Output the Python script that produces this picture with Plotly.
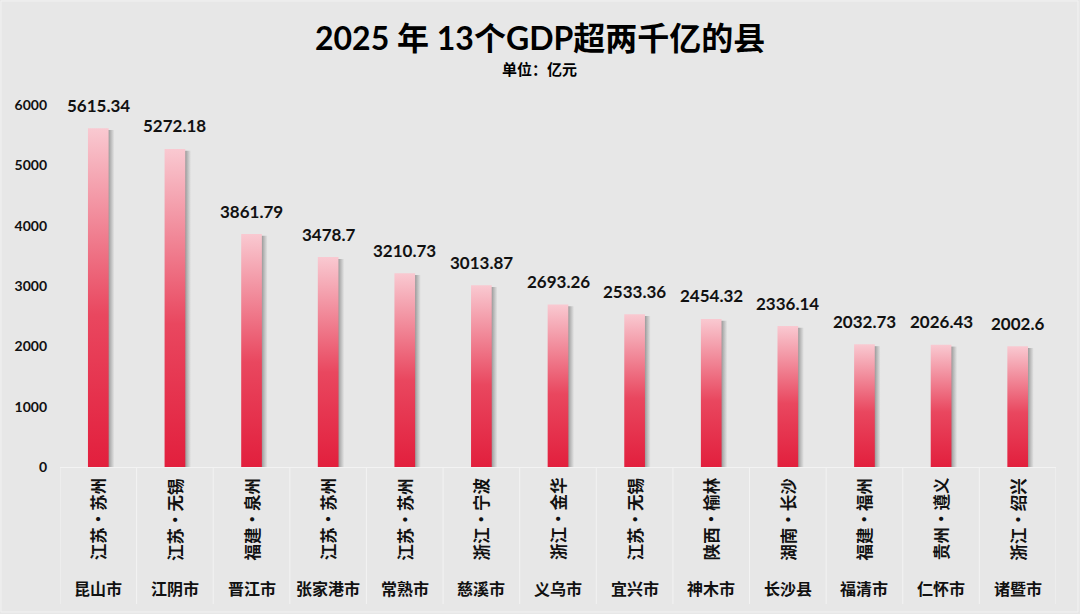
import plotly.graph_objects as go

cities = ["昆山市", "江阴市", "晋江市", "张家港市", "常熟市", "慈溪市", "义乌市",
          "宜兴市", "神木市", "长沙县", "福清市", "仁怀市", "诸暨市"]
regions = ["江苏・苏州", "江苏・无锡", "福建・泉州", "江苏・苏州", "江苏・苏州", "浙江・宁波",
           "浙江・金华", "江苏・无锡", "陕西・榆林", "湖南・长沙", "福建・福州", "贵州・遵义",
           "浙江・绍兴"]
gdp = [5615.34, 5272.18, 3861.79, 3478.7, 3210.73, 3013.87, 2693.26,
       2533.36, 2454.32, 2336.14, 2032.73, 2026.43, 2002.6]
labels = ["5615.34", "5272.18", "3861.79", "3478.7", "3210.73", "3013.87", "2693.26",
          "2533.36", "2454.32", "2336.14", "2032.73", "2026.43", "2002.6"]
yticks = [0, 1000, 2000, 3000, 4000, 5000, 6000]

BG = "#e7e7e7"
FONT = "Lato, 'Noto Sans CJK SC', sans-serif"
CJK = "'Noto Sans CJK SC', sans-serif"
W, H = 1080, 614
ML, MR, MT, MB = 60, 24, 105, 147
PH = H - MT - MB
PW = W - ML - MR

def py(px):
    return (H - MB - px) / PH

def px_(x):
    return (x - ML) / PW

fig = go.Figure()
bw = 0.27
for i, v in enumerate(gdp):
    sx0, sx1 = i + bw / 2 - 0.01, i + bw / 2 + 0.075
    fig.add_trace(go.Scatter(
        x=[sx0, sx1, sx1, sx0, sx0], y=[0, 0, v - 30, v - 30, 0],
        mode="lines", fill="toself", line=dict(width=0),
        fillgradient=dict(type="horizontal",
                          colorscale=[[0, "#8f8f8f"], [0.4, "#b5b5b5"], [1, BG]]),
        hoverinfo="skip", showlegend=False))
    x0, x1 = i - bw / 2, i + bw / 2
    fig.add_trace(go.Scatter(
        x=[x0, x1, x1, x0, x0], y=[0, 0, v, v, 0],
        mode="lines", fill="toself", line=dict(width=0),
        fillgradient=dict(type="vertical",
                          colorscale=[[0, "#e21f3d"], [0.45, "#e9475f"], [1, "#f9c9d1"]]),
        hoverinfo="text", text=f"{cities[i]}: {labels[i]}", showlegend=False))

ann = []
for i, v in enumerate(gdp):
    ann.append(dict(x=i, y=v, xref="x", yref="y", text=f"<b>{labels[i]}</b>",
                    showarrow=False, yshift=23, xanchor="center", yanchor="middle",
                    font=dict(size=17, color="#111", family=FONT)))
    ann.append(dict(x=i, y=py(519), xref="x", yref="paper", text=f"<b>{regions[i]}</b>",
                    textangle=-90, showarrow=False, xanchor="center", yanchor="middle",
                    font=dict(size=16.5, color="#111", family=CJK)))
    ann.append(dict(x=i, y=py(588), xref="x", yref="paper", text=f"<b>{cities[i]}</b>",
                    showarrow=False, xanchor="center", yanchor="middle",
                    font=dict(size=16, color="#111", family=CJK)))

ann.append(dict(x=px_(540), y=py(38), xref="paper", yref="paper", xanchor="center", yanchor="middle",
                text="<b>2025 年 13个GDP超两千亿的县</b>", showarrow=False,
                font=dict(size=32, color="#000", family=FONT)))
ann.append(dict(x=px_(539), y=py(68), xref="paper", yref="paper", xanchor="center", yanchor="middle",
                text="<b>单位：亿元</b>", showarrow=False,
                font=dict(size=15, color="#000", family=CJK)))

shapes = []
for k in range(len(gdp) + 1):
    shapes.append(dict(type="line", xref="x", yref="paper", x0=k - 0.5, x1=k - 0.5,
                       y0=0, y1=py(604), line=dict(color="#f3f3f3", width=1), layer="below"))
shapes.append(dict(type="line", xref="x", yref="paper", x0=-0.5, x1=len(gdp) - 0.5,
                   y0=py(467.5), y1=py(467.5), line=dict(color="#f3f3f3", width=1), layer="below"))
shapes.append(dict(type="rect", xref="paper", yref="paper",
                   x0=px_(1), x1=px_(W - 2), y0=py(H - 2), y1=py(1),
                   line=dict(color="#f2f2f2", width=1), layer="below"))

fig.update_layout(
    width=W, height=H, paper_bgcolor=BG, plot_bgcolor=BG,
    margin=dict(l=ML, r=MR, t=MT, b=MB),
    annotations=ann, shapes=shapes,
    xaxis=dict(range=[-0.5, len(gdp) - 0.5], showticklabels=False, showgrid=False,
               zeroline=False, showline=False, fixedrange=True),
    yaxis=dict(range=[0, 6000], tickvals=yticks, ticktext=[f"<b>{t}</b>" for t in yticks],
               showgrid=False, zeroline=False, showline=False, ticks="",
               ticklabelstandoff=12,
               tickfont=dict(size=14, color="#111", family=FONT)),
    font=dict(family=FONT),
)
fig.write_html("out.html", config={"displayModeBar": False},
               post_script="document.body.style.margin='0';document.body.style.overflow='hidden';")
